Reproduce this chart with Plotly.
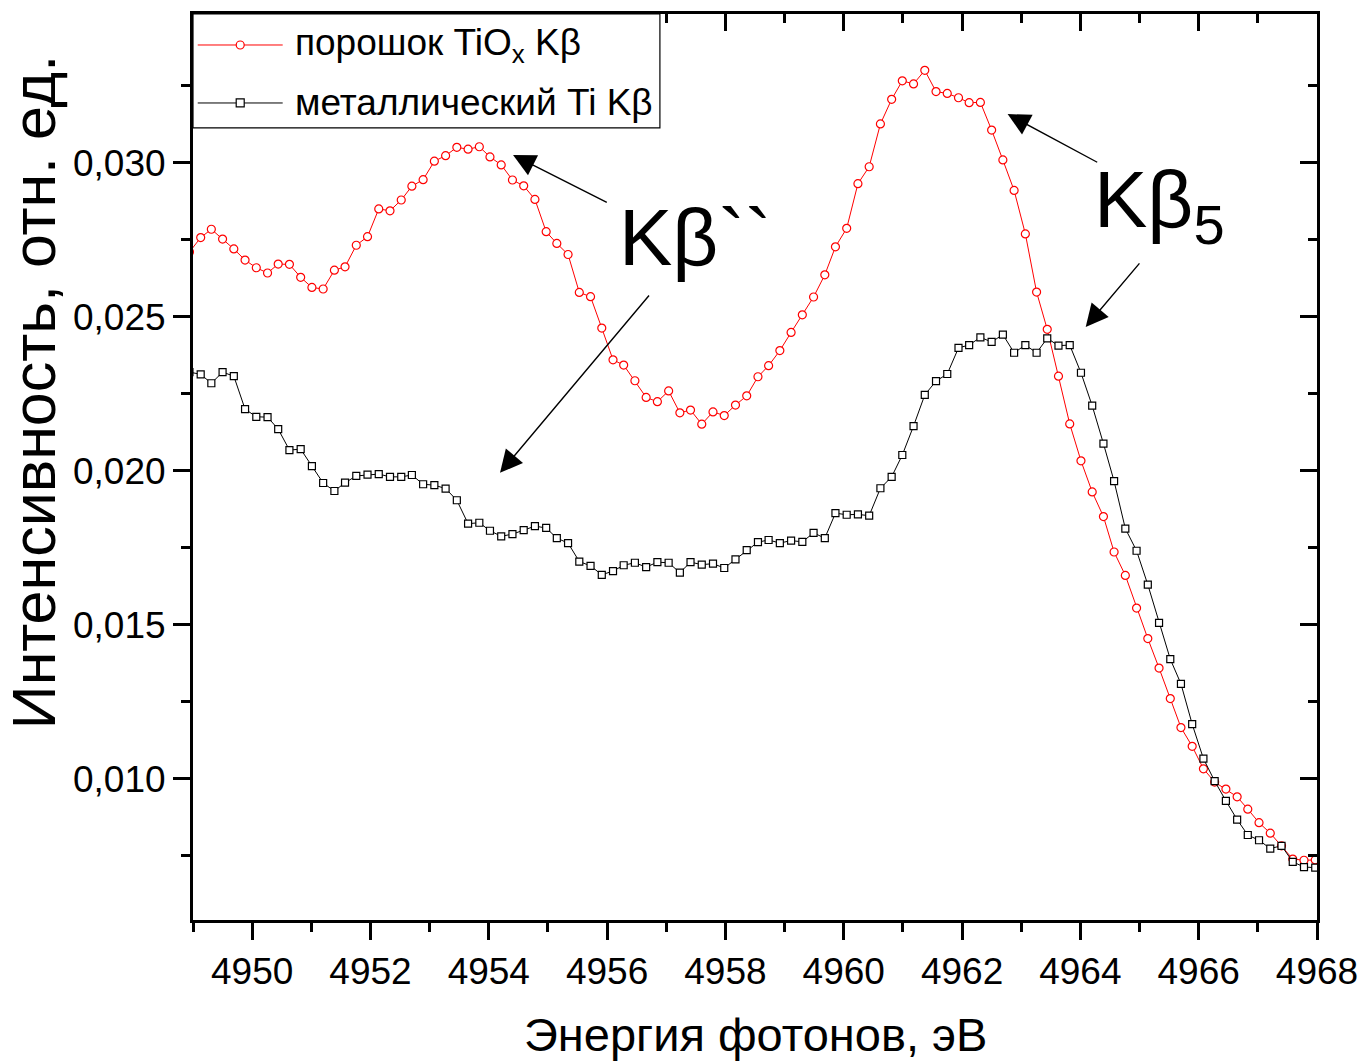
import plotly.graph_objects as go

# ---------------- data ----------------
energy = [4948.94, 4949.13, 4949.31, 4949.50, 4949.69, 4949.88, 4950.07, 4950.26, 4950.44, 4950.63,
          4950.82, 4951.01, 4951.20, 4951.39, 4951.57, 4951.76, 4951.95, 4952.14, 4952.33, 4952.52,
          4952.70, 4952.89, 4953.08, 4953.27, 4953.46, 4953.65, 4953.84, 4954.02, 4954.21, 4954.40,
          4954.59, 4954.78, 4954.97, 4955.15, 4955.34, 4955.53, 4955.72, 4955.91, 4956.10, 4956.28,
          4956.47, 4956.66, 4956.85, 4957.04, 4957.23, 4957.41, 4957.60, 4957.79, 4957.98, 4958.17,
          4958.36, 4958.55, 4958.73, 4958.92, 4959.11, 4959.30, 4959.49, 4959.68, 4959.86, 4960.05,
          4960.24, 4960.43, 4960.62, 4960.81, 4960.99, 4961.18, 4961.37, 4961.56, 4961.75, 4961.94,
          4962.12, 4962.31, 4962.50, 4962.69, 4962.88, 4963.07, 4963.26, 4963.44, 4963.63, 4963.82,
          4964.01, 4964.20, 4964.39, 4964.57, 4964.76, 4964.95, 4965.14, 4965.33, 4965.52, 4965.70,
          4965.89, 4966.08, 4966.27, 4966.46, 4966.65, 4966.83, 4967.02, 4967.21, 4967.40, 4967.59,
          4967.78, 4967.97]

tiox_powder = [0.02710, 0.02757, 0.02784, 0.02752, 0.02720, 0.02684, 0.02659, 0.02642, 0.02671, 0.02670,
               0.02628, 0.02595, 0.02590, 0.02651, 0.02662, 0.02732, 0.02760, 0.02850, 0.02844, 0.02879,
               0.02924, 0.02945, 0.03005, 0.03023, 0.03050, 0.03044, 0.03052, 0.03019, 0.02993, 0.02944,
               0.02925, 0.02881, 0.02776, 0.02738, 0.02702, 0.02579, 0.02565, 0.02463, 0.02360, 0.02343,
               0.02292, 0.02238, 0.02224, 0.02259, 0.02188, 0.02197, 0.02151, 0.02191, 0.02179, 0.02213,
               0.02243, 0.02305, 0.02341, 0.02390, 0.02449, 0.02506, 0.02564, 0.02636, 0.02727, 0.02787,
               0.02932, 0.02987, 0.03126, 0.03206, 0.03266, 0.03256, 0.03300, 0.03231, 0.03225, 0.03211,
               0.03195, 0.03196, 0.03106, 0.03009, 0.02910, 0.02769, 0.02580, 0.02459, 0.02307, 0.02152,
               0.02032, 0.01931, 0.01851, 0.01736, 0.01660, 0.01554, 0.01455, 0.01359, 0.01260, 0.01166,
               0.01105, 0.01032, 0.00989, 0.00966, 0.00941, 0.00901, 0.00857, 0.00823, 0.00782, 0.00739,
               0.00735, 0.00736]

ti_metal = [0.02320, 0.02313, 0.02284, 0.02320, 0.02307, 0.02200, 0.02175, 0.02174, 0.02135, 0.02067,
            0.02070, 0.02015, 0.01960, 0.01934, 0.01961, 0.01983, 0.01987, 0.01989, 0.01980, 0.01980,
            0.01986, 0.01956, 0.01953, 0.01942, 0.01904, 0.01828, 0.01831, 0.01805, 0.01787, 0.01794,
            0.01807, 0.01820, 0.01814, 0.01781, 0.01765, 0.01705, 0.01691, 0.01662, 0.01674, 0.01693,
            0.01701, 0.01687, 0.01703, 0.01701, 0.01669, 0.01703, 0.01695, 0.01698, 0.01684, 0.01712,
            0.01742, 0.01768, 0.01775, 0.01765, 0.01773, 0.01769, 0.01798, 0.01781, 0.01862, 0.01857,
            0.01858, 0.01854, 0.01943, 0.01980, 0.02051, 0.02145, 0.02246, 0.02291, 0.02314, 0.02399,
            0.02408, 0.02433, 0.02418, 0.02442, 0.02383, 0.02408, 0.02383, 0.02430, 0.02406, 0.02408,
            0.02318, 0.02211, 0.02088, 0.01966, 0.01812, 0.01740, 0.01630, 0.01506, 0.01388, 0.01308,
            0.01177, 0.01065, 0.00992, 0.00928, 0.00867, 0.00817, 0.00800, 0.00773, 0.00782, 0.00730,
            0.00713, 0.00711]

series_names = ["порошок TiO<sub>x</sub> Kβ", "металлический Ti Kβ"]

x_tick_vals = [4950, 4952, 4954, 4956, 4958, 4960, 4962, 4964, 4966, 4968]
x_tick_text = ["4950", "4952", "4954", "4956", "4958", "4960", "4962", "4964", "4966", "4968"]
y_tick_vals = [0.010, 0.015, 0.020, 0.025, 0.030]
y_tick_text = ["0,010", "0,015", "0,020", "0,025", "0,030"]

x_range = [4949, 4968]
y_range = [0.00541, 0.03483]

# arrow annotations: (tip_x, tip_y, tail_x, tail_y) in data units
arrows = [
    (4954.41, 0.03025, 4956.02, 0.02869),
    (4954.19, 0.01993, 4956.73, 0.02574),
    (4962.77, 0.03158, 4964.31, 0.02999),
    (4964.09, 0.02467, 4965.02, 0.02678),
]

FONT = "Arial, 'Liberation Sans', sans-serif"
RED = "#ff0000"
BLACK = "#000000"

fig = go.Figure()
fig.add_trace(go.Scatter(
    x=energy, y=tiox_powder, mode="lines+markers", name=series_names[0],
    line=dict(color=RED, width=1),
    marker=dict(symbol="circle", size=8, color="white", line=dict(color=RED, width=1.2)),
    showlegend=False))
fig.add_trace(go.Scatter(
    x=energy, y=ti_metal, mode="lines+markers", name=series_names[1],
    line=dict(color=BLACK, width=1),
    marker=dict(symbol="square", size=7, color="white", line=dict(color=BLACK, width=1.2)),
    showlegend=False))
# helper trace so the mirrored (top/right) axes are drawn
fig.add_trace(go.Scatter(x=[], y=[], xaxis="x2", yaxis="y2", showlegend=False, hoverinfo="skip"))

axis_common = dict(showgrid=False, zeroline=False, showline=True, linecolor=BLACK, linewidth=3,
                   tickcolor=BLACK, tickwidth=3, automargin=False)

fig.update_layout(
    template="none",
    width=1363, height=1062,
    margin=dict(l=193, r=46, t=14, b=142, pad=0),
    paper_bgcolor="white", plot_bgcolor="white",
    font=dict(family=FONT, size=37, color=BLACK),
    showlegend=False,
    xaxis=dict(range=x_range, tickvals=x_tick_vals, ticktext=x_tick_text, ticks="outside", ticklen=17,
               minor=dict(dtick=1, tick0=4950, ticks="outside", ticklen=9, tickwidth=3, tickcolor=BLACK),
               tickfont=dict(size=37), **axis_common),
    yaxis=dict(range=y_range, tickvals=y_tick_vals, ticktext=y_tick_text, ticks="outside", ticklen=17,
               minor=dict(dtick=0.0025, tick0=0.010, ticks="outside", ticklen=9, tickwidth=3, tickcolor=BLACK),
               tickfont=dict(size=37), **axis_common),
    xaxis2=dict(range=x_range, overlaying="x", side="top", anchor="y2", tickvals=x_tick_vals,
                showticklabels=False, ticks="inside", ticklen=17,
                minor=dict(dtick=1, tick0=4950, ticks="inside", ticklen=9, tickwidth=3, tickcolor=BLACK),
                **axis_common),
    yaxis2=dict(range=y_range, overlaying="y", side="right", anchor="x2", tickvals=y_tick_vals,
                showticklabels=False, ticks="inside", ticklen=17,
                minor=dict(dtick=0.0025, tick0=0.010, ticks="inside", ticklen=9, tickwidth=3, tickcolor=BLACK),
                **axis_common),
)

annotations = []
# axis titles
annotations.append(dict(text="Энергия фотонов, эВ", xref="paper", yref="paper", x=0.5, y=-0.126,
                        xanchor="center", yanchor="middle", showarrow=False, font=dict(size=47)))
annotations.append(dict(text="Интенсивность, отн. ед.", xref="paper", yref="paper", x=-0.142, y=0.583,
                        xanchor="center", yanchor="middle", textangle=-90, showarrow=False,
                        font=dict(size=61)))
# peak labels
annotations.append(dict(text="Kβ``", xref="paper", yref="paper", x=0.4470, y=0.7528,
                        xanchor="center", yanchor="middle", showarrow=False, font=dict(size=80)))
annotations.append(dict(text="Kβ<sub>5</sub>", xref="paper", yref="paper", x=0.8600, y=0.789,
                        xanchor="center", yanchor="middle", showarrow=False, font=dict(size=80)))
# arrows
for tx, ty, ax_, ay_ in arrows:
    annotations.append(dict(text="", x=tx, y=ty, ax=ax_, ay=ay_, xref="x", yref="y", axref="x", ayref="y",
                            showarrow=True, arrowhead=2, arrowsize=3.2, arrowwidth=1.4, arrowcolor=BLACK,
                            standoff=0, startstandoff=0))

# custom legend (box, line samples, markers, text)
leg_x0, leg_x1, leg_y0, leg_y1 = 0.0, 0.4154, 0.8742, 1.0
row_y = [0.9658, 0.9018]
line_x = [0.0042, 0.0798]
marker_x = 0.0420
text_x = 0.0889
shapes = [dict(type="rect", xref="paper", yref="paper", x0=leg_x0, x1=leg_x1, y0=leg_y0, y1=leg_y1,
               line=dict(color=BLACK, width=1.2), fillcolor="white", layer="above")]
colors = [RED, BLACK]
for i in range(2):
    shapes.append(dict(type="line", xref="paper", yref="paper", x0=line_x[0], x1=line_x[1],
                       y0=row_y[i], y1=row_y[i], line=dict(color=colors[i], width=1), layer="above"))
    shapes.append(dict(type="circle" if i == 0 else "rect", xref="paper", yref="paper",
                       xsizemode="pixel", ysizemode="pixel", xanchor=marker_x, yanchor=row_y[i],
                       x0=-4, x1=4, y0=-4, y1=4,
                       line=dict(color=colors[i], width=1.2), fillcolor="white", layer="above"))
    annotations.append(dict(text=series_names[i], xref="paper", yref="paper", x=text_x, y=row_y[i],
                            xanchor="left", yanchor="middle", showarrow=False, font=dict(size=37)))

fig.update_layout(annotations=annotations, shapes=shapes)

fig.write_html("out.html")
